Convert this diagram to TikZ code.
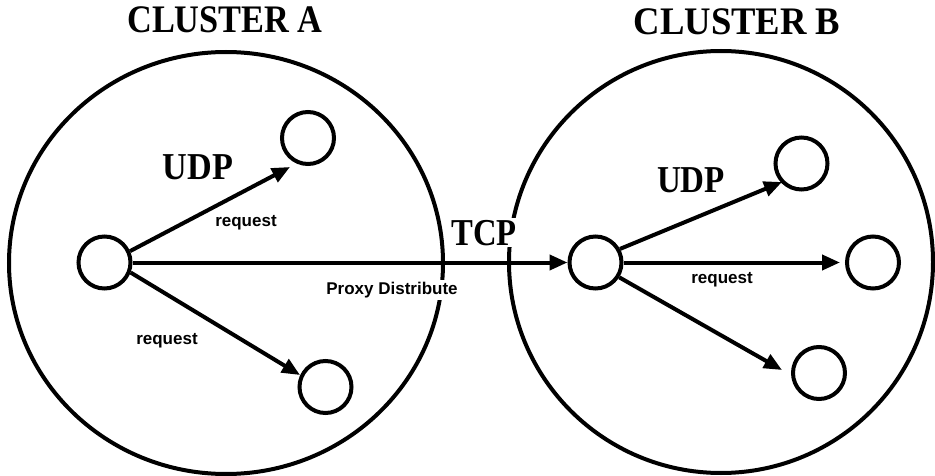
\documentclass[tikz,border=0pt]{standalone}
\usepackage{fontspec}
\setmainfont{Liberation Serif}
\newfontfamily\labsans{Liberation Sans}
\usetikzlibrary{arrows.meta}
\begin{document}
\begin{tikzpicture}[x=1pt,y=-1pt,
  cluster/.style={draw, line width=4pt},
  host/.style={circle, draw, line width=4pt, minimum size=52pt, inner sep=0pt},
  arr/.style={line width=4pt, -{Triangle[length=18pt,width=15pt]}},
  ttl/.style={font=\bfseries\fontsize{39}{41}\selectfont, anchor=base, inner sep=0pt},
  proto/.style={font=\bfseries\fontsize{38}{40}\selectfont, anchor=base, inner sep=1.5pt, fill=white},
  lab/.style={font=\labsans\bfseries\fontsize{17}{19}\selectfont, anchor=base, inner sep=2pt, fill=white}]
\useasboundingbox (0,0) rectangle (935,476);
\fill[white] (0,0) rectangle (935,476);
% clusters
\draw[cluster] (226,263) ellipse [x radius=217, y radius=211];
\draw[cluster] (721,262) ellipse [x radius=212, y radius=211];
% hosts
\node[host] (ahub) at (104.5,262.5) {};
\node[host] (atop) at (308,138) {};
\node[host] (abot) at (325.5,387) {};
\node[host] (bhub) at (595.5,262.5) {};
\node[host] (btop) at (801.5,163.5) {};
\node[host] (bright) at (873,262.5) {};
\node[host] (bbot) at (819,373) {};
% arrows
\draw[arr] (ahub.24) -- ([shift={(-18,29)}]atop.center);
\draw[arr] (ahub.-21) -- ([shift={(-25.5,-12)}]abot.center);
\draw[arr] (ahub.east) -- (bhub.west);
\draw[arr] (bhub.29) -- ([shift={(-19.5,18.5)}]btop.center);
\draw[arr] (bhub.east) -- ([shift={(-33,0)}]bright.center);
\draw[arr] (bhub.-32) -- ([shift={(-37,-3)}]bbot.center);
% titles
\node[ttl] (ttlA) at (225,33) {\scalebox{0.88}[1]{CLUSTER A}};
\node[ttl] (ttlB) at (737,35) {\scalebox{0.94}[1]{CLUSTER B}};
% protocol labels
\node[proto] (udpA) at (198,180) {\scalebox{0.9}[1]{UDP}};
\node[proto] (udpB) at (691,193) {\scalebox{0.87}[1]{UDP}};
\node[proto] (tcp) at (484,245) {\scalebox{0.86}[1]{TCP}};
% small labels
\node[lab] (reqA1) at (246,226.5) {request};
\node[lab] (reqA2) at (167,344.5) {request};
\node[lab] (reqB) at (722,283.5) {request};
\node[lab] (proxy) at (392,294) {Proxy Distribute};
\end{tikzpicture}
\end{document}
